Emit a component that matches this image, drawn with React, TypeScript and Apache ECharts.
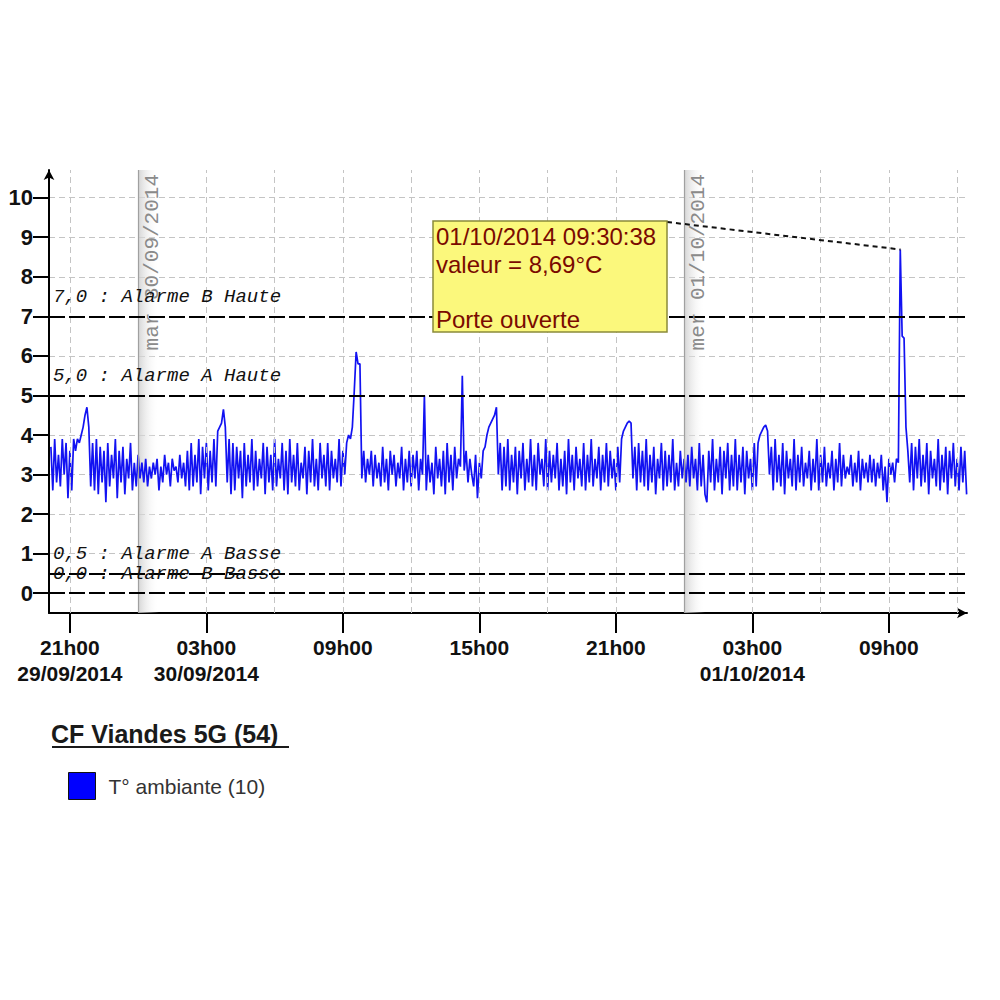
import { useEffect, useRef } from "react";
import * as echarts from "echarts";

// ---------- data ----------
const SAMPLE_START = "2014-09-29T20:10:00Z";
const SAMPLE_STEP_MIN = 5;
const TEMPERATURES = [
  3.7, 2.6, 3.9, 2.8, 3.5, 2.7, 3.9, 3.0, 3.8, 2.4, 3.6, 2.6, 3.9, 3.6, 3.9, 3.8, 4.0, 4.2, 4.5, 4.7, 4.2, 2.7, 3.8, 2.6,
  3.9, 2.5, 3.7, 2.8, 3.6, 2.3, 3.8, 2.7, 3.5, 2.9, 3.9, 2.4, 3.6, 2.8, 3.7, 2.5, 3.4, 2.9, 3.8, 2.6, 3.3, 2.7, 3.5, 2.9,
  3.3, 2.8, 3.4, 2.7, 3.2, 2.9, 3.3, 3.0, 3.4, 2.6, 3.2, 2.8, 3.5, 3.0, 3.3, 2.7, 3.4, 3.1, 3.2, 2.8, 3.5, 2.9, 3.3, 2.7,
  3.6, 2.6, 3.8, 2.7, 3.5, 2.8, 3.9, 2.5, 3.7, 2.9, 3.8, 2.6, 3.6, 2.8, 3.9, 2.7, 4.1, 4.2, 4.3, 4.65, 4.2, 2.8, 3.9, 2.5,
  3.8, 2.6, 3.7, 2.9, 3.6, 2.4, 3.8, 2.7, 3.5, 2.8, 3.9, 2.6, 3.6, 2.7, 3.4, 2.9, 3.8, 2.5, 3.7, 2.8, 3.5, 2.6, 3.9, 2.7,
  3.4, 2.9, 3.8, 2.6, 3.6, 2.5, 3.9, 2.8, 3.5, 2.7, 3.8, 2.6, 3.3, 2.9, 3.7, 2.5, 3.6, 2.8, 3.9, 2.7, 3.4, 2.6, 3.8, 2.9,
  3.5, 2.7, 3.8, 2.6, 3.6, 2.9, 3.4, 2.8, 3.9, 2.7, 3.6, 3.0, 3.8, 4.0, 3.9, 4.2, 5.1, 6.1, 5.8, 5.8, 2.9, 3.6, 2.8, 3.4,
  3.0, 3.6, 2.7, 3.5, 2.9, 3.3, 2.7, 3.7, 2.8, 3.4, 2.6, 3.6, 3.0, 3.5, 2.7, 3.3, 2.9, 3.7, 2.6, 3.4, 2.8, 3.6, 2.7, 3.5,
  2.9, 3.6, 2.6, 3.4, 3.0, 5.0, 2.6, 3.5, 2.8, 3.3, 2.5, 3.7, 2.9, 3.4, 2.7, 3.6, 2.5, 3.8, 2.8, 3.5, 2.6, 3.7, 2.9, 3.4,
  3.2, 5.5, 3.1, 3.6, 2.8, 3.4, 3.0, 2.7, 3.5, 2.4, 3.3, 2.9, 3.6, 3.7, 4.0, 4.2, 4.3, 4.4, 4.5, 4.7, 3.0, 3.8, 2.6, 3.7,
  2.7, 3.9, 2.6, 3.5, 2.8, 3.7, 2.5, 3.6, 2.9, 3.8, 2.6, 3.4, 2.8, 3.9, 2.7, 3.5, 2.6, 3.8, 3.0, 3.4, 2.7, 3.9, 2.6, 3.6,
  2.8, 3.5, 2.9, 3.8, 2.6, 3.4, 2.7, 3.6, 2.5, 3.9, 2.8, 3.5, 2.6, 3.7, 2.9, 3.4, 2.7, 3.8, 2.6, 3.5, 2.8, 3.9, 2.7, 3.4,
  2.9, 3.7, 2.6, 3.5, 2.8, 3.8, 2.7, 3.6, 2.9, 3.4, 2.6, 3.7, 2.8, 3.9, 4.1, 4.2, 4.3, 4.35, 4.3, 2.9, 3.7, 2.6, 3.8, 2.8,
  3.6, 2.7, 3.9, 2.6, 3.5, 2.8, 3.7, 2.5, 3.4, 2.9, 3.8, 2.6, 3.6, 2.7, 3.5, 2.8, 3.9, 2.6, 3.3, 2.7, 3.6, 2.9, 3.4, 2.8,
  3.5, 2.7, 3.7, 2.9, 3.4, 2.6, 3.8, 2.7, 3.5, 2.5, 2.3, 3.6, 2.8, 3.9, 2.6, 3.4, 2.8, 3.7, 2.5, 3.6, 2.9, 3.8, 2.6, 3.5,
  2.7, 3.9, 2.6, 3.5, 2.8, 3.7, 2.5, 3.6, 2.9, 3.4, 2.6, 3.8, 2.7, 3.8, 4.0, 4.1, 4.2, 4.25, 4.1, 3.0, 3.7, 2.6, 3.9, 2.8,
  3.5, 2.7, 3.8, 2.5, 3.6, 2.9, 3.4, 2.7, 3.9, 2.6, 3.5, 2.8, 3.7, 2.7, 3.3, 2.9, 3.6, 2.6, 3.4, 2.8, 3.9, 2.6, 3.5, 2.8,
  3.7, 2.7, 3.3, 2.9, 3.6, 2.6, 3.4, 2.8, 3.8, 2.7, 3.5, 2.9, 3.2, 3.0, 3.5, 2.7, 3.3, 2.8, 3.6, 2.6, 3.4, 2.9, 3.3, 2.8,
  3.5, 2.8, 3.4, 2.7, 3.3, 2.9, 3.5, 2.6, 3.2, 2.3, 3.4, 3.0, 3.3, 2.8, 3.4, 3.3, 8.69, 6.5, 6.45, 4.2, 3.6, 2.8, 3.8, 2.6,
  3.7, 2.9, 3.9, 2.7, 3.5, 2.8, 3.8, 2.5, 3.6, 2.9, 3.4, 2.7, 3.9, 2.6, 3.5, 2.8, 3.7, 2.5, 3.6, 2.9, 3.8, 2.7, 3.4, 2.6,
  3.7, 2.8, 3.6, 2.5,
];
const SERIES_NAME = "T° ambiante (10)";
const TITLE = "CF Viandes 5G (54)";

const AXIS_START = "2014-09-29T20:05:00Z";
const AXIS_END = "2014-10-01T12:26:00Z";
const MAJOR_TICK_TIMES = [
  "2014-09-29T21:00:00Z",
  "2014-09-30T03:00:00Z",
  "2014-09-30T09:00:00Z",
  "2014-09-30T15:00:00Z",
  "2014-09-30T21:00:00Z",
  "2014-10-01T03:00:00Z",
  "2014-10-01T09:00:00Z",
];
const MAJOR_TICK_LABELS = [
  "21h00\n29/09/2014",
  "03h00\n30/09/2014",
  "09h00",
  "15h00",
  "21h00",
  "03h00\n01/10/2014",
  "09h00",
];
const GRID_TIMES = [
  "2014-09-29T21:00:00Z",
  "2014-09-30T03:00:00Z",
  "2014-09-30T06:00:00Z",
  "2014-09-30T09:00:00Z",
  "2014-09-30T12:00:00Z",
  "2014-09-30T15:00:00Z",
  "2014-09-30T18:00:00Z",
  "2014-09-30T21:00:00Z",
  "2014-10-01T03:00:00Z",
  "2014-10-01T06:00:00Z",
  "2014-10-01T09:00:00Z",
  "2014-10-01T12:00:00Z",
];
const DAY_TIMES = ["2014-09-30T00:00:00Z", "2014-10-01T00:00:00Z"];
const DAY_LABELS = ["mar 30/09/2014", "mer 01/10/2014"];
const DAY_BAND_MIN = 55;

const Y_MIN = -0.5;
const Y_MAX = 10.7;
const Y_TICKS = [0, 1, 2, 3, 4, 5, 6, 7, 8, 9, 10];

const ALARM_VALUES = [7, 5, 0.5, 0];
const ALARM_LABELS = [
  "7,0 : Alarme B Haute",
  "5,0 : Alarme A Haute",
  "0,5 : Alarme A Basse",
  "0,0 : Alarme B Basse",
];

const EVENT_TIME = "2014-10-01T09:30:38Z";
const EVENT_VALUE = 8.69;
const EVENT_LINES = ["01/10/2014 09:30:38", "valeur = 8,69°C", "", "Porte ouverte"];

// ---------- helpers ----------
const ts = (s: string) => new Date(s).getTime();
const SANS = "Liberation Sans, Arial, sans-serif";
const MONO = "Liberation Mono, Courier New, monospace";

export default function App() {
  const ref = useRef<HTMLDivElement>(null);

  useEffect(() => {
    document.body.style.margin = "0";
    const chart = echarts.init(ref.current!, null, { renderer: "svg" });
    const start = ts(SAMPLE_START);
    const data = TEMPERATURES.map((v, i) => [start + i * SAMPLE_STEP_MIN * 60000, v]);
    const majorTs = MAJOR_TICK_TIMES.map(ts);

    const option: any = {
      animation: false,
      backgroundColor: "#ffffff",
      title: {
        text: TITLE,
        left: 51,
        top: 721,
        padding: 0,
        textStyle: { fontFamily: SANS, fontSize: 25, fontWeight: "bold", color: "#1a1a1a" },
      },
      legend: {
        data: [SERIES_NAME],
        left: 68,
        top: 772,
        padding: 0,
        icon: "rect",
        itemWidth: 27,
        itemHeight: 27,
        itemStyle: { color: "#0000ff", borderColor: "#111", borderWidth: 1 },
        textStyle: { fontFamily: SANS, fontSize: 21, color: "#333", padding: [0, 0, 0, 8] },
      },
      grid: { left: 49, right: 33, top: 170, bottom: 387, containLabel: false },
      xAxis: {
        type: "value",
        min: ts(AXIS_START),
        max: ts(AXIS_END),
        axisLine: {
          show: true,
          onZero: false,
          symbol: ["none", "arrow"],
          symbolSize: [8, 10],
          lineStyle: { color: "#000", width: 2 },
        },
        axisTick: {
          show: true,
          customValues: majorTs,
          length: 20,
          lineStyle: { color: "#000", width: 2 },
        },
        axisLabel: {
          customValues: majorTs,
          formatter: (v: number) => {
            const idx = majorTs.findIndex((t) => Math.abs(t - v) < 60000);
            return idx >= 0 ? MAJOR_TICK_LABELS[idx] : "";
          },
          color: "#111",
          fontFamily: SANS,
          fontWeight: "bold",
          fontSize: 21,
          lineHeight: 26,
          margin: 21,
          hideOverlap: false,
        },
        splitLine: { show: false },
      },
      yAxis: {
        type: "value",
        min: Y_MIN,
        max: Y_MAX,
        axisLine: {
          show: true,
          onZero: false,
          symbol: ["none", "arrow"],
          symbolSize: [8, 10],
          lineStyle: { color: "#000", width: 2 },
        },
        axisTick: {
          show: true,
          customValues: Y_TICKS,
          length: 16,
          lineStyle: { color: "#000", width: 2 },
        },
        axisLabel: {
          customValues: Y_TICKS,
          color: "#111",
          fontFamily: SANS,
          fontWeight: "bold",
          fontSize: 22,
          margin: 16,
        },
        splitLine: { show: true, lineStyle: { color: "#c4c4c4", width: 1, type: [6, 4] } },
      },
      series: [
        {
          name: "grid",
          type: "line",
          data: [],
          silent: true,
          z: 1,
          markLine: {
            silent: true,
            symbol: "none",
            animation: false,
            data: [
              ...GRID_TIMES.map((t) => ({
                xAxis: ts(t),
                lineStyle: { color: "#c4c4c4", width: 1, type: [6, 4] },
                label: { show: false },
              })),
              ...DAY_TIMES.map((t, k) => ({
                xAxis: ts(t),
                lineStyle: { color: "#a0a0a0", width: 1.2, type: "solid" },
                label: {
                  show: true,
                  formatter: DAY_LABELS[k],
                  position: "insideEndBottom",
                  distance: 4,
                  color: "#8a8a8a",
                  fontFamily: MONO,
                  fontSize: 21,
                },
              })),
            ],
          },
          markArea: {
            silent: true,
            data: DAY_TIMES.map((t) => [
              {
                xAxis: ts(t),
                itemStyle: {
                  color: new echarts.graphic.LinearGradient(0, 0, 1, 0, [
                    { offset: 0, color: "rgba(205,205,205,0.85)" },
                    { offset: 1, color: "rgba(255,255,255,0)" },
                  ]),
                },
              },
              { xAxis: ts(t) + DAY_BAND_MIN * 60000 },
            ]),
          },
        },
        {
          name: SERIES_NAME,
          type: "line",
          data,
          symbol: "none",
          showSymbol: false,
          z: 4,
          lineStyle: { color: "#1212f2", width: 1.7 },
          itemStyle: { color: "#0000ff" },
          markLine: {
            silent: true,
            symbol: "none",
            animation: false,
            lineStyle: { color: "#000", width: 2, type: [16, 4] },
            label: {
              show: true,
              position: "insideStartTop",
              distance: [4, 10],
              color: "#111",
              fontFamily: MONO,
              fontStyle: "italic",
              fontSize: 19,
            },
            data: ALARM_VALUES.map((v, k) => ({
              yAxis: v,
              label: { formatter: ALARM_LABELS[k] },
            })),
          },
        },
      ],
    };
    chart.setOption(option);

    const peak = chart.convertToPixel({ gridIndex: 0 }, [ts(EVENT_TIME), EVENT_VALUE]) as number[];
    const box = { x: 433, y: 221, w: 234, h: 111 };
    chart.setOption({
      graphic: [
        {
          type: "line",
          z: 20,
          shape: { x1: box.x + box.w, y1: box.y + 1, x2: peak[0], y2: peak[1] },
          style: { stroke: "#111", lineWidth: 2, lineDash: [5, 4] },
        },
        {
          type: "rect",
          z: 21,
          shape: { x: box.x, y: box.y, width: box.w, height: box.h },
          style: { fill: "#fbf87c", stroke: "#8a8a3a", lineWidth: 1.5 },
        },
        {
          type: "text",
          z: 22,
          x: box.x + 3,
          y: box.y + 2,
          style: {
            text: EVENT_LINES.join("\n"),
            fill: "#7a0a00",
            fontFamily: SANS,
            fontSize: 24,
            lineHeight: 27.5,
          },
        },
        {
          type: "line",
          z: 20,
          shape: { x1: 52, y1: 747, x2: 289, y2: 747 },
          style: { stroke: "#1a1a1a", lineWidth: 2 },
        },
      ],
    });

    return () => chart.dispose();
  }, []);

  return (
    <div
      ref={ref}
      style={{ position: "absolute", left: 0, top: 0, width: 1000, height: 1000 }}
    />
  );
}
